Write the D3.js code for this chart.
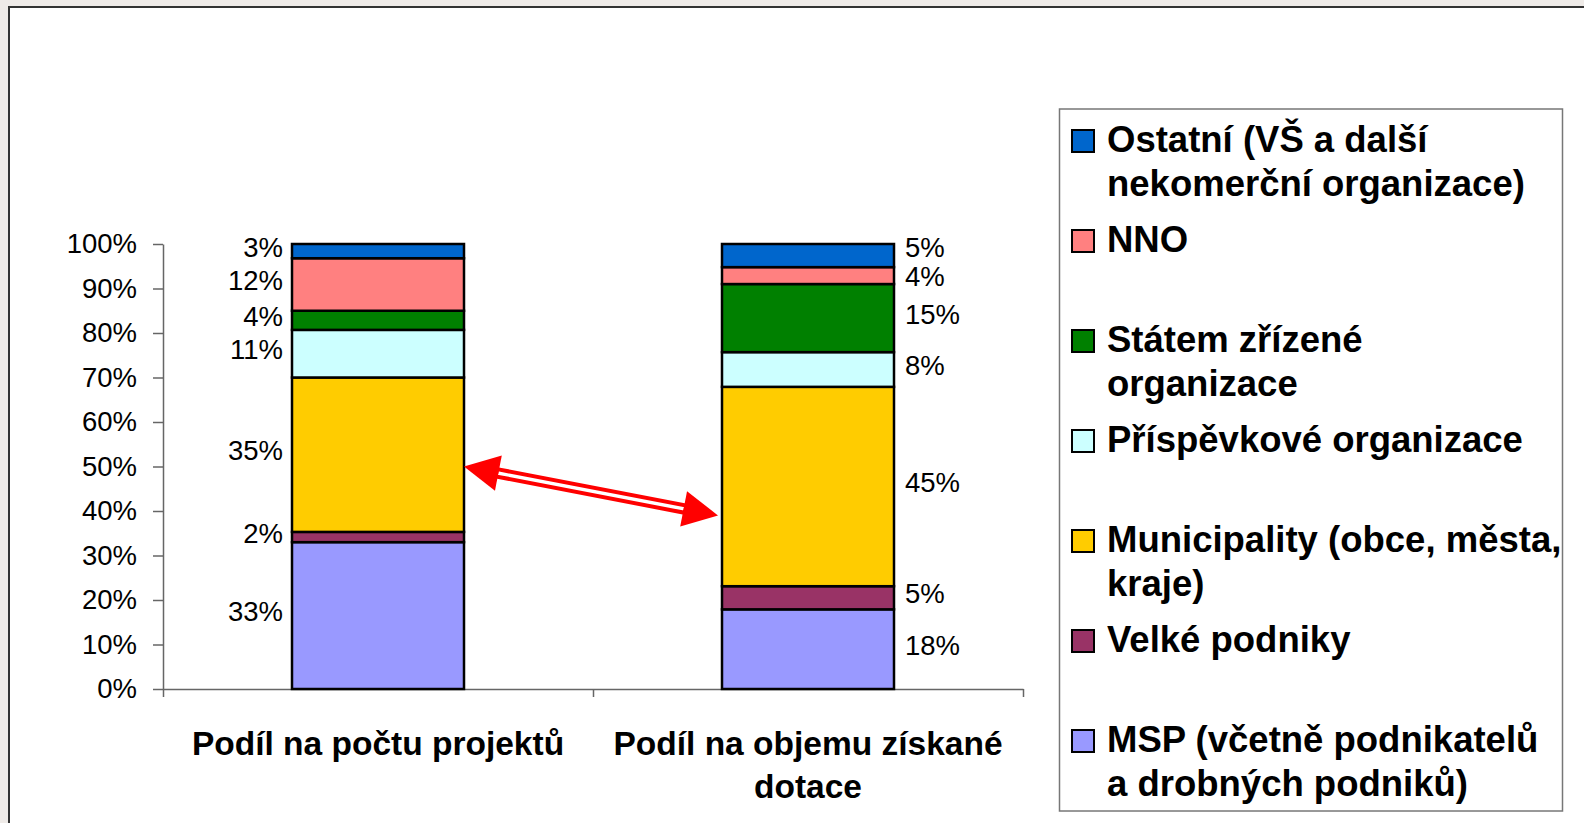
<!DOCTYPE html>
<html>
<head>
<meta charset="utf-8">
<script src="https://cdn.jsdelivr.net/npm/d3@7"></script>
<style>
    body { margin: 0; background: #efebe8; }
    svg { display: block; font-family: "Liberation Sans", Arial, sans-serif; }
    .axis path, .axis line { stroke: #666; stroke-width: 1.5; }
    .axis text { font-size: 27.5px; fill: #000; }
</style>
</head>
<body>
<svg id="svg" width="1584" height="823"></svg>
<script>
// categories on the x axis ("\n" = line break as in the original)
const categories = ["Podíl na počtu projektů", "Podíl na objemu získané\ndotace"];

// series, bottom of the stack first
const series = ["MSP", "Velké podniky", "Municipality", "Příspěvkové organizace",
    "Státem zřízené organizace", "NNO", "Ostatní"];
const legendLabels = ["MSP (včetně podnikatelů\na drobných podniků)", "Velké podniky",
    "Municipality (obce, města,\nkraje)", "Příspěvkové organizace",
    "Státem zřízené\norganizace", "NNO", "Ostatní (VŠ a další\nnekomerční organizace)"];
const colors = ["#9999ff", "#993366", "#ffcc00", "#ccffff", "#008000", "#ff8080", "#0066cc"];

// shares in %
const projects = [33, 2.3, 34.7, 10.7, 4.3, 11.8, 3.2];
const funding = [17.9, 5.2, 44.8, 7.8, 15.3, 3.8, 5.2];

const yTicks = [0, 0.1, 0.2, 0.3, 0.4, 0.5, 0.6, 0.7, 0.8, 0.9, 1];

// the arrow goes from the 50 % level of the first bar to the 39 % level of the second
const arrowFrom = 0.50, arrowTo = 0.39;

const svg = d3.select("#svg");

// white panel
svg.append("rect").attr("x", 9).attr("y", 7).attr("width", 1600).attr("height", 840)
    .attr("fill", "#fff").attr("stroke", "#333").attr("stroke-width", 2);

const x = d3.scaleBand().domain(categories).range([163, 1023]).paddingInner(0.6).paddingOuter(0.3),
    xb = d3.scaleLinear().domain([0, 2]).range([163, 1023]),
    y = d3.scaleLinear().domain([0, 1]).range([689, 244]);

// axes
svg.append("g").attr("class", "axis").attr("transform", "translate(163,0)")
    .call(d3.axisLeft(y).tickValues(yTicks).tickFormat(d3.format(".0%"))
        .tickSize(10).tickSizeOuter(0).tickPadding(16));
svg.append("g").attr("class", "axis").attr("transform", "translate(0,689)")
    .call(d3.axisBottom(xb).tickValues([0, 1, 2]).tickFormat("").tickSize(8).tickSizeOuter(0));

// stacked bars
const rows = categories.map((c, i) => {
    const r = { cat: c };
    series.forEach((s, j) => r[s] = (i === 0 ? projects : funding)[j] / 100);
    return r;
});
const stack = d3.stack().keys(series)(rows);

const layers = svg.append("g").selectAll("g").data(stack).join("g")
    .attr("fill", (d, i) => colors[i]);
layers.selectAll("rect").data(d => d).join("rect")
    .attr("x", d => x(d.data.cat))
    .attr("width", x.bandwidth())
    .attr("y", d => y(d[1]))
    .attr("height", d => y(d[0]) - y(d[1]))
    .attr("stroke", "#000").attr("stroke-width", 2.5);

// value labels: left of the first bar, right of the second; spread apart when too close
const labels = [];
stack.forEach((layer, li) => layer.forEach((d, i) => labels.push({
    bar: i, li: li, d: d,
    text: Math.round((d[1] - d[0]) * 100) + "%",
    cy: (y(d[0]) + y(d[1])) / 2 - 4
})));
const minGap = 29;
for (let iter = 0; iter < 20; iter++) {
    [0, 1].forEach(b => {
        const col = labels.filter(l => l.bar === b).sort((a, c) => a.cy - c.cy);
        for (let k = 1; k < col.length; k++) {
            const gap = col[k].cy - col[k - 1].cy;
            if (gap < minGap) {
                col[k - 1].cy -= (minGap - gap) / 2;
                col[k].cy += (minGap - gap) / 2;
            }
        }
    });
}
svg.append("g").selectAll("text").data(labels).join("text")
    .attr("x", l => l.bar === 0 ? x(l.d.data.cat) - 9 : x(l.d.data.cat) + x.bandwidth() + 11)
    .attr("y", l => l.cy)
    .attr("dy", "0.35em")
    .attr("text-anchor", l => l.bar === 0 ? "end" : "start")
    .attr("font-size", 27.5).attr("fill", "#000")
    .text(l => l.text);

// category labels
svg.append("g").selectAll("text").data(categories).join("text")
    .attr("x", d => x(d) + x.bandwidth() / 2)
    .attr("y", 755)
    .attr("text-anchor", "middle")
    .attr("font-size", 33.5).attr("font-weight", "bold")
    .selectAll("tspan").data(d => d.split("\n")).join("tspan")
    .attr("x", function () { return this.parentNode.getAttribute("x"); })
    .attr("dy", (d, i) => i === 0 ? 0 : 43)
    .text(d => d);

// double arrow
const p0 = [x(categories[0]) + x.bandwidth(), y(arrowFrom)],
    p1 = [x(categories[1]) - 4, y(arrowTo)],
    len = Math.hypot(p1[0] - p0[0], p1[1] - p0[1]),
    u = [(p1[0] - p0[0]) / len, (p1[1] - p0[1]) / len],
    n = [-u[1], u[0]],
    headL = 35, headW = 18, shaftW = 3.7;
const pt = (p, a, b) => [p[0] + u[0] * a + n[0] * b, p[1] + u[1] * a + n[1] * b];
svg.append("path")
    .attr("d", d3.line()([pt(p0, headL - 2, -shaftW), pt(p1, -headL + 2, -shaftW),
        pt(p1, -headL + 2, shaftW), pt(p0, headL - 2, shaftW)]) + "Z")
    .attr("fill", "#fff").attr("stroke", "#ff0000").attr("stroke-width", 4);
svg.append("path")
    .attr("d", d3.line()([p0, pt(p0, headL, -headW), pt(p0, headL, headW)]) + "Z")
    .attr("fill", "#ff0000");
svg.append("path")
    .attr("d", d3.line()([p1, pt(p1, -headL, -headW), pt(p1, -headL, headW)]) + "Z")
    .attr("fill", "#ff0000");

// legend (top entry = top of the stack)
const legend = svg.append("g");
legend.append("rect").attr("x", 1059.5).attr("y", 109).attr("width", 503).attr("height", 702)
    .attr("fill", "#fff").attr("stroke", "#777").attr("stroke-width", 1.5);
const order = d3.range(series.length).reverse();
const item = legend.selectAll("g.item").data(order).join("g").attr("class", "item")
    .attr("transform", (d, i) => "translate(1072," + (152 + i * 100) + ")");
item.append("rect").attr("x", 0).attr("y", -22).attr("width", 22).attr("height", 22)
    .attr("fill", d => colors[d]).attr("stroke", "#000").attr("stroke-width", 2);
item.append("text").attr("x", 35).attr("y", 0)
    .attr("font-size", 36.5).attr("font-weight", "bold")
    .selectAll("tspan").data(d => legendLabels[d].split("\n")).join("tspan")
    .attr("x", 35).attr("dy", (d, i) => i === 0 ? 0 : 44)
    .text(d => d);
</script>
</body>
</html>
